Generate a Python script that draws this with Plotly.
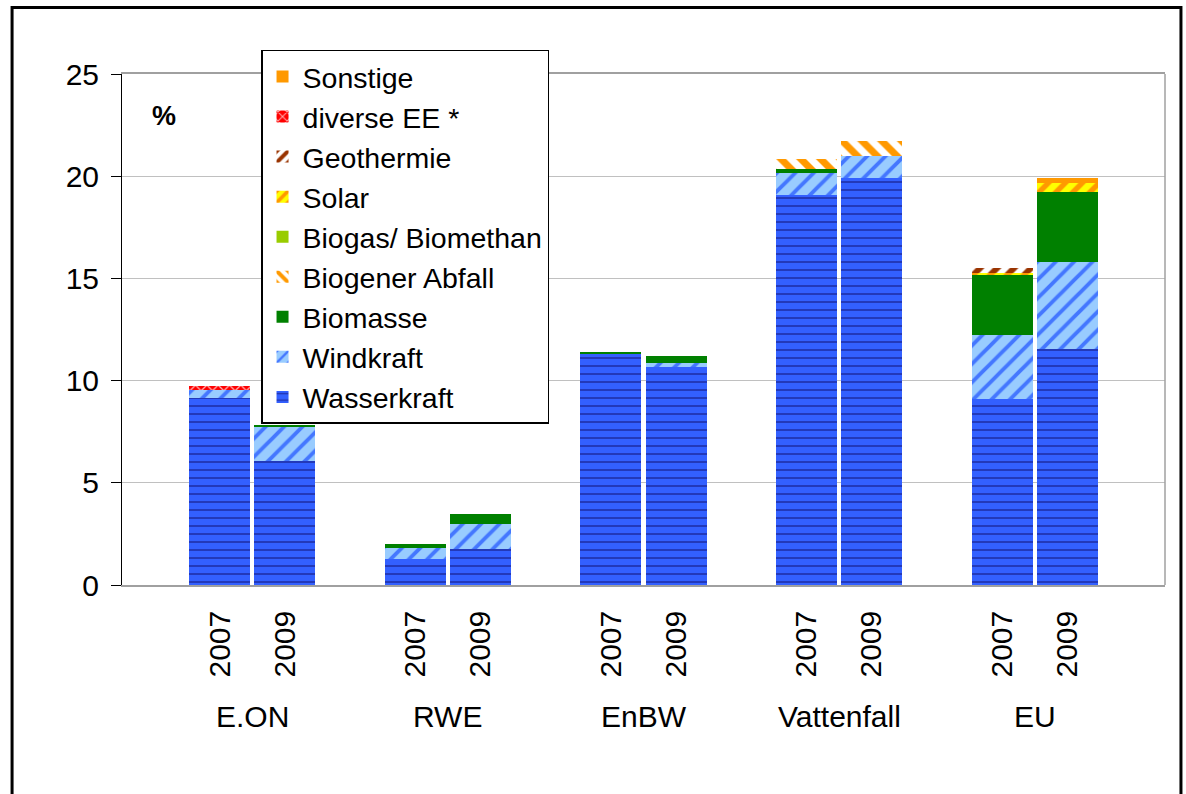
import plotly.graph_objects as go

companies = ["E.ON", "RWE", "EnBW", "Vattenfall", "EU"]
years = ["2007", "2009"]

# values per bar: E.ON07, E.ON09, RWE07, RWE09, EnBW07, EnBW09, Vatt07, Vatt09, EU07, EU09
wasserkraft = [9.15, 6.08, 1.29, 1.75, 11.29, 10.68, 19.08, 19.90, 9.10, 11.55]
windkraft = [0.39, 1.63, 0.52, 1.24, 0.0, 0.20, 1.08, 1.10, 3.13, 4.24]
biomasse = [0.0, 0.11, 0.20, 0.49, 0.11, 0.34, 0.20, 0.0, 2.94, 3.45]
biogener_abfall = [0, 0, 0, 0, 0, 0, 0.49, 0.72, 0, 0]
biogas = [0, 0, 0, 0, 0, 0, 0, 0, 0, 0]
solar = [0, 0, 0, 0, 0, 0, 0, 0, 0.10, 0.44]
geothermie = [0, 0, 0, 0, 0, 0, 0, 0, 0.26, 0]
diverse_ee = [0.21, 0, 0, 0, 0, 0, 0, 0, 0, 0]
sonstige = [0, 0, 0, 0, 0, 0, 0, 0, 0, 0.23]

# slot positions: each company gets 2 bars plus one blank slot
xpos = [g * 3 + k for g in range(len(companies)) for k in range(len(years))]
xyears = [years[k] for g in range(len(companies)) for k in range(len(years))]

series = [
    ("Wasserkraft", wasserkraft, dict(shape="-", bgcolor="#3360FF", fgcolor="#1f2fa8", size=8, solidity=0.2)),
    ("Windkraft", windkraft, dict(shape="/", bgcolor="#99CCFF", fgcolor="#4477FF", size=13, solidity=0.3)),
    ("Biomasse", biomasse, None),
    ("Biogener Abfall", biogener_abfall, dict(shape="\\", bgcolor="#FFFFFF", fgcolor="#FF9900", size=14, solidity=0.5)),
    ("Biogas/ Biomethan", biogas, None),
    ("Solar", solar, dict(shape="/", bgcolor="#FFFF00", fgcolor="#FF9900", size=12, solidity=0.45)),
    ("Geothermie", geothermie, dict(shape="/", bgcolor="#FFFFFF", fgcolor="#993300", size=12, solidity=0.5)),
    ("diverse EE *", diverse_ee, dict(shape="x", bgcolor="#FF0000", fgcolor="#FFAAAA", size=8, solidity=0.3)),
    ("Sonstige", sonstige, None),
]
solid_colors = {"Biomasse": "#008000", "Biogas/ Biomethan": "#99CC00", "Sonstige": "#FF9900"}

fig = go.Figure()
for name, vals, pat in series:
    if pat is None:
        marker = dict(color=solid_colors[name], line=dict(width=0))
    else:
        marker = dict(color=pat["bgcolor"], line=dict(width=0),
                      pattern=dict(shape=pat["shape"], bgcolor=pat["bgcolor"], fgcolor=pat["fgcolor"],
                                   fgopacity=1, size=pat["size"], solidity=pat["solidity"],
                                   fillmode="overlay"))
    fig.add_trace(go.Bar(x=xpos, y=vals, name=name, marker=marker, hoverinfo="name+y"))

font_family = "Liberation Sans, Arial, sans-serif"

fig.update_layout(
    width=1186, height=794,
    barmode="stack", bargap=0.065,
    paper_bgcolor="white", plot_bgcolor="white",
    margin=dict(l=122, r=21, t=74, b=209),
    font=dict(family=font_family, size=30, color="black"),
    legend=dict(x=0.1333, y=1.047, xanchor="left", yanchor="top", traceorder="reversed",
                bgcolor="white", bordercolor="black", borderwidth=1.5,
                font=dict(size=28.5), itemwidth=30),
    xaxis=dict(range=[-1.5, 14.5], tickmode="array", tickvals=xpos, ticktext=xyears,
               tickangle=-90, showgrid=False, zeroline=False, showline=True,
               linecolor="#a0a0a0", linewidth=1.5, mirror=True, ticks="",
               ticklabelstandoff=12, tickfont=dict(size=30)),
    yaxis=dict(range=[0, 25], dtick=5, showgrid=True, gridcolor="#c0c0c0", gridwidth=1,
               zeroline=False, showline=True, linecolor="black", linewidth=1,
               ticks="outside", ticklen=10, tickcolor="black", ticklabelstandoff=6,
               tickfont=dict(size=30)),
    showlegend=True,
)

for g, comp in enumerate(companies):
    fig.add_annotation(x=g * 3 + 0.5, y=-0.258, xref="x", yref="paper", text=comp,
                       showarrow=False, font=dict(size=30), xanchor="center", yanchor="middle")

fig.add_annotation(x=0.04, y=0.917, xref="paper", yref="paper", text="<b>%</b>",
                   showarrow=False, font=dict(size=27), xanchor="center", yanchor="middle")

# plot area right border
fig.add_shape(type="line", xref="paper", yref="paper", x0=1, x1=1, y0=0, y1=1,
              line=dict(color="#a0a0a0", width=1.5))
# outer chart frame
fig.add_shape(type="rect", xref="paper", yref="paper", x0=-0.1054, x1=1.0153, y0=-0.5, y1=1.130,
              line=dict(color="black", width=3), fillcolor="rgba(0,0,0,0)", layer="above")

fig.write_html("out.html", config={"displayModeBar": False},
               post_script="document.body.style.margin='0';")
